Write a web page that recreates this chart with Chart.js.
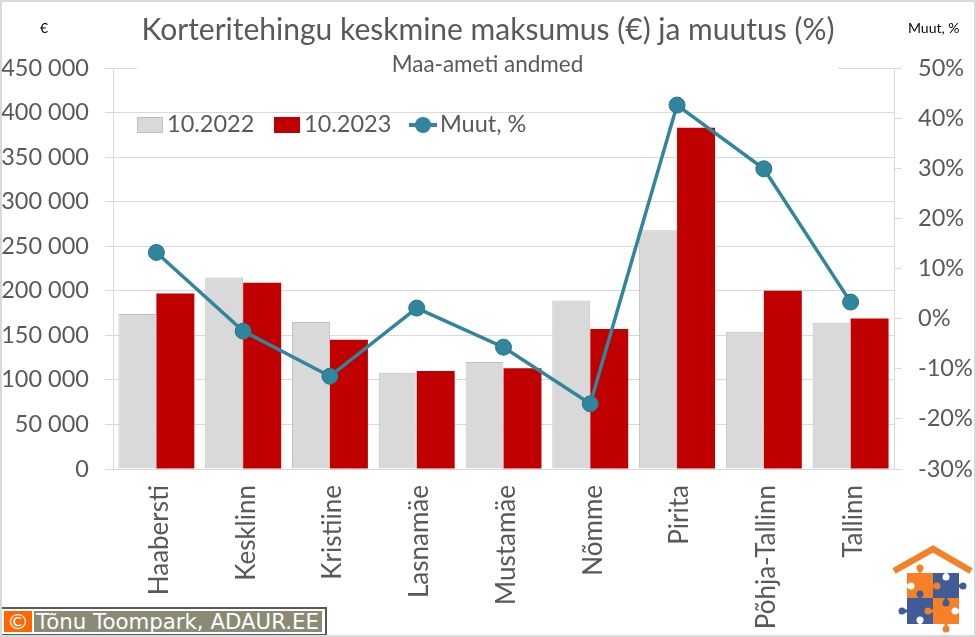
<!DOCTYPE html>
<html>
<head>
<meta charset="utf-8">
<script src="https://cdn.jsdelivr.net/npm/chart.js@4"></script>
<style>
  html, body { margin: 0; padding: 0; background: #fff; }
  #wrap { position: relative; width: 976px; height: 637px; overflow: hidden; font-family: Lato, sans-serif; color: #595959; }
  #frame { position: absolute; inset: 0; border: 2px solid #d9d9d9; box-sizing: border-box; pointer-events: none; }
  .txt { position: absolute; white-space: nowrap; line-height: 1; }
  #title { left: 0; width: 976px; text-align: center; top: 13px; font-size: 30px; }
  #subtitle { left: 137px; width: 701px; top: 53px; height: 22px; background: #fff; text-align: center; font-size: 22.5px; }
  #unitL { left: 40px; top: 21px; font-size: 14px; color: #000; }
  #unitR { left: 908px; top: 21px; font-size: 14px; color: #000; }
  #legend { position: absolute; left: 137px; top: 110px; font-size: 23.5px; height: 28px; line-height: 27px; }
  #legend span { position: absolute; white-space: nowrap; }
  .swatch { position: absolute; width: 26px; height: 16px; top: 7px; box-sizing: border-box; }
  #credit { position: absolute; left: 0; top: 607px; width: 327px; height: 29px; box-sizing: border-box; background: #fff; border: 2px solid #595959; }
  #credit .c { position: absolute; left: 2px; top: 2px; width: 28px; height: 21px; background: #ff6600; color: #fff; font: 22px/21px "DejaVu Sans", sans-serif; text-align: center; }
  #credit .t { position: absolute; left: 32px; top: 2px; width: 286px; height: 21px; padding-left: 2px; background: #8a8a75; color: #fff; font: 21.3px/21px "DejaVu Sans", sans-serif; white-space: nowrap; overflow: hidden; }
  #logo { position: absolute; left: 890px; top: 543px; }
</style>
</head>
<body>
<div id="wrap">
  <canvas id="chart" width="976" height="637"></canvas>
  <div id="title" class="txt">Korteritehingu keskmine maksumus (€) ja muutus (%)</div>
  <div id="subtitle" class="txt">Maa-ameti andmed</div>
  <div id="unitL" class="txt">€</div>
  <div id="unitR" class="txt">Muut, %</div>
  <div id="legend"></div>
  <svg id="logo" width="84" height="90" viewBox="890 543 84 90" stroke-width="3">
    <polyline points="894,571 933,549 971,571" fill="none" stroke="#f58025" stroke-width="6.5"/>
    <rect x="907" y="573" width="26" height="25" fill="#f58025"/>
    <rect x="933" y="573" width="26" height="25" fill="#3f5c99"/>
    <rect x="907" y="598" width="26" height="26" fill="#3f5c99"/>
    <rect x="933" y="598" width="26" height="26" fill="#f58025"/>
    <path d="M920 568V573M937 586H933M928 611H933M946 629V624" stroke="#f58025"/>
    <path d="M963 586H959M920 594V598M902 611H907M946 603V598" stroke="#3f5c99"/>
    <path d="M946 577V573M911 586H907M955 611H959M920 620V624" stroke="#fff"/>
    <circle cx="920" cy="568" r="3.5" fill="#f58025"/>
    <circle cx="946" cy="577" r="3.5" fill="#fff"/>
    <circle cx="963" cy="586" r="3.5" fill="#3f5c99"/>
    <circle cx="911" cy="586" r="3.5" fill="#fff"/>
    <circle cx="937" cy="586" r="3.5" fill="#f58025"/>
    <circle cx="920" cy="594" r="3.5" fill="#3f5c99"/>
    <circle cx="902" cy="611" r="3.5" fill="#3f5c99"/>
    <circle cx="928" cy="611" r="3.5" fill="#f58025"/>
    <circle cx="946" cy="603" r="3.5" fill="#3f5c99"/>
    <circle cx="955" cy="611" r="3.5" fill="#fff"/>
    <circle cx="920" cy="620" r="3.5" fill="#fff"/>
    <circle cx="946" cy="629" r="3.5" fill="#f58025"/>
  </svg>
  <div id="credit"><div class="c">©</div><div class="t">Tõnu Toompark, ADAUR.EE</div></div>
  <div id="frame"></div>
</div>
<script>
const categories = ['Haabersti', 'Kesklinn', 'Kristiine', 'Lasnamäe', 'Mustamäe', 'Nõmme', 'Pirita', 'Põhja-Tallinn', 'Tallinn'];
const price2022 = [174000, 215000, 165000, 108000, 120000, 189000, 268000, 154000, 164000];
const price2023 = [197000, 209000, 145000, 110000, 113000, 157000, 383000, 200000, 169000];
const changePct = [13.2, -2.5, -11.5, 2.1, -5.7, -17, 42.6, 29.9, 3.3];

const GREY = '#d9d9d9', RED = '#c00000', TEAL = '#31859c', TEXT = '#595959';
const tickFont = { family: 'Lato', size: 23.5 };

// legend sits inside the plot, so it is plain html
document.getElementById('legend').innerHTML =
  `<i class="swatch" style="left:0;background:${GREY};border:1px solid #bfbfbf"></i><span style="left:30px">10.2022</span>` +
  `<i class="swatch" style="left:137px;background:${RED}"></i><span style="left:167px">10.2023</span>` +
  `<i class="swatch" style="left:272px;top:13px;width:28px;height:3.5px;background:${TEAL}"></i><i class="swatch" style="left:278px;top:7px;width:16px;height:16px;border-radius:50%;background:${TEAL}"></i><span style="left:303px">Muut, %</span>`;

new Chart(document.getElementById('chart'), {
  data: {
    labels: categories,
    datasets: [
      { type: 'line', label: 'Muut, %', data: changePct, yAxisID: 'y1', order: 0,
        borderColor: TEAL, borderWidth: 3.5, pointBackgroundColor: TEAL, pointBorderColor: '#2a7288', pointBorderWidth: 1, pointRadius: 8 },
      { type: 'bar', label: '10.2022', data: price2022, backgroundColor: GREY, borderColor: '#bfbfbf', borderWidth: 1, order: 1 },
      { type: 'bar', label: '10.2023', data: price2023, backgroundColor: RED, order: 1 }
    ]
  },
  options: {
    responsive: false,
    animation: false,
    layout: { padding: { top: 68, bottom: 0, left: 0, right: 0 } },
    plugins: { legend: { display: false }, title: { display: false }, tooltip: { enabled: false } },
    datasets: { bar: { categoryPercentage: 0.875, barPercentage: 1 } },
    scales: {
      x: {
        afterFit: (s) => { s.height = 168; },
        grid: { display: false },
        border: { color: GREY, width: 1 },
        ticks: { color: TEXT, font: { family: 'Lato', size: 26 }, minRotation: 90, maxRotation: 90, padding: 8, labelOffset: 3, autoSkip: false }
      },
      y: {
        position: 'left', min: 0, max: 450000,
        afterFit: (s) => { s.width = 113; },
        grid: { color: GREY, lineWidth: 1, tickLength: 8 },
        border: { color: GREY, width: 1 },
        ticks: { stepSize: 50000, color: TEXT, font: tickFont, padding: 16,
          callback: (v) => String(v).replace(/\B(?=(\d{3})+$)/g, ' ') }
      },
      y1: {
        position: 'right', min: -30, max: 50,
        afterFit: (s) => { s.width = 82; },
        grid: { drawOnChartArea: false, color: GREY, tickLength: 8 },
        border: { color: GREY, width: 1 },
        ticks: { stepSize: 10, color: TEXT, font: tickFont, padding: 16, crossAlign: 'near',
          callback: (v) => v + '%' }
      }
    }
  }
});
</script>
</body>
</html>
